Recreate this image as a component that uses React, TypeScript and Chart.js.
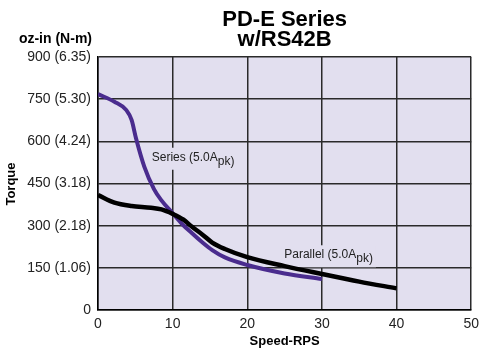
import React, { useEffect, useRef } from 'react';
import { Chart, registerables } from 'chart.js';
Chart.register(...registerables);

// Series (5.0A pk) curve
const seriesSpeed = [0, 2.2, 3.8, 4.5, 5.1, 6.2, 7.5, 8.5, 10, 11.3, 12.6, 14, 15.3, 17, 20, 25, 30];
const seriesTorque = [768, 741, 711, 676, 610, 510, 430, 390, 344, 305, 273, 240, 213, 187, 160, 130, 110];

// Parallel (5.0A pk) curve
const parallelSpeed = [0, 2.2, 4.5, 7.1, 8.5, 10, 11.4, 12.6, 14, 15.3, 17, 20, 25, 30, 35, 40];
const parallelTorque = [409, 382, 370, 364, 358, 342, 322, 296, 268, 240, 217, 188, 156, 128, 101, 77];

// Axis ticks
const yTickValues = [0, 150, 300, 450, 600, 750, 900];
const yTickLabels = ['0', '150 (1.06)', '300 (2.18)', '450 (3.18)', '600 (4.24)', '750 (5.30)', '900 (6.35)'];
const xTickValues = [0, 10, 20, 30, 40, 50];

// Texts
const titleLines = ['PD-E Series', 'w/RS42B'];
const yUnitsText = 'oz-in (N-m)';
const yAxisTitle = 'Torque';
const xAxisTitle = 'Speed-RPS';
const curveLabels = [
  { main: 'Series (5.0A', sub: 'pk)', x: 7.2, y: 531 },
  { main: 'Parallel (5.0A', sub: 'pk)', x: 24.95, y: 184 },
];

const FONT = "'Liberation Sans', Arial, Helvetica, sans-serif";
const PLOT_BG = '#e2dfef';
const PURPLE = '#4a2c8e';

const decorPlugin = {
  id: 'decor',
  beforeDraw(chart: any) {
    const { ctx, chartArea } = chart;
    ctx.save();
    ctx.fillStyle = '#ffffff';
    ctx.fillRect(0, 0, chart.width, chart.height);
    ctx.fillStyle = PLOT_BG;
    ctx.fillRect(chartArea.left, chartArea.top, chartArea.right - chartArea.left, chartArea.bottom - chartArea.top);
    ctx.restore();
  },
  beforeDatasetsDraw(chart: any) {
    const { ctx } = chart;
    const xs = chart.scales.x;
    const ys = chart.scales.y;
    ctx.save();
    curveLabels.forEach((l) => {
      const px = xs.getPixelForValue(l.x);
      const py = ys.getPixelForValue(l.y);
      ctx.font = `12px ${FONT}`;
      const w1 = ctx.measureText(l.main).width;
      const w2 = ctx.measureText(l.sub).width;
      ctx.fillStyle = PLOT_BG;
      ctx.fillRect(px - 3, py - 13, w1 + w2 + 6, 22);
      ctx.fillStyle = '#222';
      ctx.textAlign = 'left';
      ctx.textBaseline = 'alphabetic';
      ctx.fillText(l.main, px, py);
      ctx.fillText(l.sub, px + w1, py + 4);
    });
    ctx.restore();
  },
  afterDraw(chart: any) {
    const { ctx, chartArea } = chart;
    const cx = (chartArea.left + chartArea.right) / 2;
    ctx.save();
    ctx.fillStyle = '#000';
    ctx.textBaseline = 'alphabetic';
    ctx.textAlign = 'center';
    ctx.font = `bold 22px ${FONT}`;
    ctx.fillText(titleLines[0], cx, 26);
    ctx.fillText(titleLines[1], cx, 45.5);

    ctx.font = `bold 14px ${FONT}`;
    ctx.textAlign = 'right';
    ctx.fillText(yUnitsText, 92, 43);

    ctx.font = `bold 13px ${FONT}`;
    ctx.textAlign = 'center';
    ctx.fillText(xAxisTitle, cx, 345);

    ctx.translate(11, 184);
    ctx.rotate(-Math.PI / 2);
    ctx.textBaseline = 'middle';
    ctx.fillText(yAxisTitle, 0, 0);
    ctx.restore();
  },
};

export default function App() {
  const ref = useRef<HTMLCanvasElement | null>(null);
  useEffect(() => {
    if (!ref.current) return;
    const chart = new Chart(ref.current, {
      type: 'line',
      data: {
        datasets: [
          {
            label: 'Parallel',
            data: parallelSpeed.map((s, i) => ({ x: s, y: parallelTorque[i] })),
            borderColor: '#000000',
            borderWidth: 4.5,
            pointRadius: 0,
            cubicInterpolationMode: 'monotone',
            fill: false,
          },
          {
            label: 'Series',
            data: seriesSpeed.map((s, i) => ({ x: s, y: seriesTorque[i] })),
            borderColor: PURPLE,
            borderWidth: 4,
            pointRadius: 0,
            cubicInterpolationMode: 'monotone',
            fill: false,
          },
        ],
      },
      options: {
        animation: false,
        responsive: false,
        maintainAspectRatio: false,
        devicePixelRatio: 1,
        layout: { padding: { left: 0, right: 9, top: 57, bottom: 0 } },
        plugins: { legend: { display: false }, title: { display: false }, tooltip: { enabled: false } },
        scales: {
          x: {
            type: 'linear',
            min: 0,
            max: 50,
            afterFit: (s: any) => { s.height = 50; },
            afterBuildTicks: (s: any) => { s.ticks = xTickValues.map((v) => ({ value: v })); },
            ticks: {
              color: '#222',
              font: { family: FONT, size: 14 },
              padding: 6,
              maxRotation: 0,
              callback: (v: any) => String(v),
            },
            grid: { color: '#2a2a2a', lineWidth: 1.5, drawTicks: false },
            border: { display: true, color: '#000', width: 1.5 },
          },
          y: {
            type: 'linear',
            min: 0,
            max: 900,
            afterFit: (s: any) => { s.width = 98; },
            afterBuildTicks: (s: any) => { s.ticks = yTickValues.map((v) => ({ value: v })); },
            ticks: {
              color: '#222',
              font: { family: FONT, size: 14 },
              padding: 7,
              callback: (v: any) => {
                const i = yTickValues.indexOf(Number(v));
                return i >= 0 ? yTickLabels[i] : '';
              },
            },
            grid: { color: '#2a2a2a', lineWidth: 1.5, drawTicks: false },
            border: { display: true, color: '#000', width: 1.5 },
          },
        },
      } as any,
      plugins: [decorPlugin],
    });
    return () => chart.destroy();
  }, []);
  return (
    <div style={{ position: 'absolute', left: 0, top: 0, width: 485, height: 360 }}>
      <canvas ref={ref} width={485} height={360} style={{ display: 'block', width: 485, height: 360 }} />
    </div>
  );
}
